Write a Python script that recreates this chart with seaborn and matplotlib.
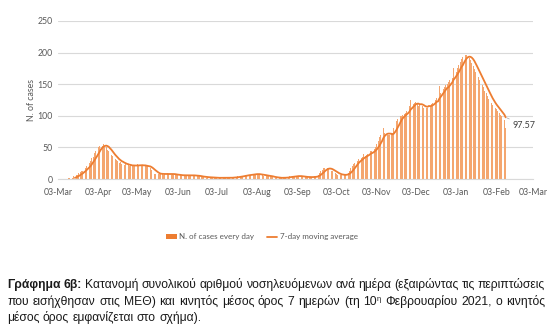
import numpy as np
import pandas as pd
import matplotlib
matplotlib.use("Agg")
import matplotlib.pyplot as plt
import matplotlib.dates as mdates
from matplotlib.patches import Patch
from matplotlib.lines import Line2D
import seaborn as sns

# ---------------- data (daily hospitalised cases, from 10 Mar 2020) ----------------
start_date = "2020-03-10"
cases_mar = [0, 1, 1, 2, 2, 4, 3, 6, 7, 9, 11, 13, 12, 16, 17, 21, 22, 26, 28, 33, 35, 41]
cases_apr = [44, 46, 51, 53, 57, 53, 55, 51, 50, 46, 45, 40, 38, 36, 32, 31, 30, 28, 26, 27,
             24, 25, 22, 23, 21, 22, 21, 22, 20, 21]
cases_may = [22, 21, 23, 22, 22, 21, 22, 20, 21, 20, 20, 19, 17, 14, 10, 8, 8, 9, 8, 8,
             8, 8, 7, 8, 8, 9, 8, 8, 7, 8, 7]
cases_jun = [7, 6, 6, 6, 6, 5, 6, 6, 6, 6, 6, 5, 6, 6, 5, 6, 5, 5, 4, 4,
             3, 3, 3, 3, 2, 3, 3, 2, 2, 2]
cases_jul = [2, 2, 2, 1, 2, 2, 2, 1, 2, 2, 2, 2, 2, 2, 2, 3, 3, 3, 4, 4,
             4, 5, 5, 6, 6, 6, 7, 7, 7, 8, 8]
cases_aug = [8, 8, 8, 7, 7, 6, 6, 5, 6, 5, 5, 4, 4, 3, 3, 2, 2, 2, 2, 2,
             1, 2, 2, 2, 3, 3, 3, 4, 4, 4, 5]
cases_sep = [5, 5, 5, 4, 4, 4, 3, 3, 3, 3, 3, 3, 3, 3, 3, 4, 4, 5, 7, 10,
             13, 15, 17, 18, 18, 17, 16, 15, 13, 12]
cases_oct = [10, 9, 8, 7, 6, 6, 6, 7, 7, 7, 8, 10, 13, 17, 21, 24, 26, 28, 29, 31,
             32, 34, 35, 40, 37, 38, 40, 41, 45, 44, 46]
cases_nov = [47, 50, 55, 60, 66, 70, 72, 80, 72, 70, 70, 69, 70, 71, 72, 80, 88, 92, 95, 98,
             100, 100, 101, 103, 105, 108, 112, 115, 125, 116]
cases_dec = [118, 120, 122, 118, 116, 117, 118, 115, 113, 112, 112, 113, 126, 116, 118, 120,
             122, 125, 128, 130, 147, 136, 140, 142, 145, 148, 150, 153, 156, 158, 160]
cases_jan = [175, 166, 170, 175, 180, 185, 190, 193, 195, 196, 196, 194, 191, 188, 184, 179,
             174, 169, 165, 161, 157, 153, 149, 145, 140, 136, 132, 127, 123, 120, 117]
cases_feb = [115, 113, 110, 108, 104, 101, 99, 97, 94, 80]

axis_start = "2020-03-03"
axis_end = "2021-03-03"
y_ticks = [0, 50, 100, 150, 200, 250]
y_label = "N. of cases"
bar_label = "N. of cases every day"
line_label = "7-day moving average"

caption_lines = [
    [[("Γράφημα", "bold")], [("6β:", "bold")], [("Κατανομή", "normal")], [("συνολικού", "normal")],
     [("αριθμού", "normal")], [("νοσηλευόμενων", "normal")], [("ανά", "normal")], [("ημέρα", "normal")],
     [("(εξαιρώντας", "normal")], [("τις", "normal")], [("περιπτώσεις", "normal")]],
    [[("που", "normal")], [("εισήχθησαν", "normal")], [("στις", "normal")], [("ΜΕΘ)", "normal")],
     [("και", "normal")], [("κινητός", "normal")], [("μέσος", "normal")], [("όρος", "normal")],
     [("7", "normal")], [("ημερών", "normal")], [("(τη", "normal")], [("10", "normal"), ("η", "sup")],
     [("Φεβρουαρίου", "normal")], [("2021,", "normal")], [("ο", "normal")], [("κινητός", "normal")]],
    [[("μέσος", "normal")], [("όρος", "normal")], [("εμφανίζεται", "normal")], [("στο", "normal")],
     [("σχήμα).", "normal")]],
]

# ---------------- figure ----------------
sns.set_theme(style="white")
plt.rcParams["font.family"] = ["Lato", "DejaVu Sans"]

W, H = 558, 326
fig = plt.figure(figsize=(W / 100, H / 100), dpi=100)
ax = fig.add_axes([58 / W, 1 - 179 / H, 475 / W, 158 / H])

daily = (cases_mar + cases_apr + cases_may + cases_jun + cases_jul + cases_aug +
         cases_sep + cases_oct + cases_nov + cases_dec + cases_jan + cases_feb)
df = pd.DataFrame({"date": pd.date_range(start_date, periods=len(daily), freq="D"),
                   "cases": daily})
df["ma"] = df["cases"].rolling(7).mean()

orange = "#ED7D31"
ax.bar(df["date"], df["cases"], width=0.6, color="#F4A66F", linewidth=0, zorder=2)
sns.lineplot(data=df.dropna(), x="date", y="ma", ax=ax, color=orange, lw=1.3,
             zorder=3, legend=False)

ax.set_xlim(pd.Timestamp(axis_start), pd.Timestamp(axis_end))
ax.set_ylim(0, 250)
ax.set_yticks(y_ticks)
ax.xaxis.set_major_locator(mdates.MonthLocator(bymonthday=3))
ax.xaxis.set_major_formatter(mdates.DateFormatter("%d-%b"))
ax.yaxis.grid(True, color="#D9D9D9", lw=0.8, zorder=0)
ax.xaxis.grid(False)
for s in ["top", "right", "left"]:
    ax.spines[s].set_visible(False)
ax.spines["bottom"].set_color("#D9D9D9")
ax.spines["bottom"].set_linewidth(0.8)
ax.tick_params(axis="both", length=0, labelsize=6.3, labelcolor="#595959")
ax.tick_params(axis="x", pad=6.5)
ax.tick_params(axis="y", pad=4)
ax.set_xlabel("")
ax.set_ylabel(y_label, fontsize=6.3, color="#595959", labelpad=1)

# data label for last moving-average value
last = df.iloc[-1]
ax.annotate(f"{last['ma']:.2f}", xy=(last["date"], last["ma"]), xytext=(5, -6),
            textcoords="offset points", fontsize=6.5, color="#404040", va="center", ha="left",
            arrowprops=dict(arrowstyle="-", color="#A6A6A6", lw=0.5, shrinkA=0, shrinkB=1))

# legend
handles = [Patch(facecolor=orange, edgecolor="none"), Line2D([], [], color=orange, lw=1.3)]
leg = fig.legend(handles, [bar_label, line_label], loc="center",
                 bbox_to_anchor=(262 / W, 1 - 237 / H), ncol=2, frameon=False, fontsize=5.8,
                 handlelength=1.3, handleheight=0.5, columnspacing=1.6, handletextpad=0.3)
for t in leg.get_texts():
    t.set_color("#595959")

# caption with justified lines
cap_family = ["Liberation Sans", "DejaVu Sans"]
cap_size = 8.7
fig.canvas.draw()
renderer = fig.canvas.get_renderer()


def seg_kw(style):
    if style == "bold":
        return dict(fontsize=cap_size, fontweight="bold")
    if style == "sup":
        return dict(fontsize=cap_size * 0.62, fontweight="normal")
    return dict(fontsize=cap_size, fontweight="normal")


def measure(text, style):
    t = fig.text(0, 0, text, family=cap_family, **seg_kw(style))
    w = t.get_window_extent(renderer).width
    t.remove()
    return w


space_w = cap_size * 100 / 72 * 0.278
x_left, x_right = 7, 545
baselines = [288, 305, 321]
justify = [True, True, False]
for words, yb, just in zip(caption_lines, baselines, justify):
    widths = [[measure(s, st) for s, st in w] for w in words]
    word_w = [sum(ws) for ws in widths]
    if just:
        gap = (x_right - x_left - sum(word_w)) / (len(words) - 1)
    else:
        gap = space_w
    x = x_left
    for w, ws in zip(words, widths):
        for (s, st), sw in zip(w, ws):
            dy = 4 if st == "sup" else 0
            fig.text(x / W, 1 - (yb - dy) / H, s, family=cap_family, color="#1a1a1a",
                     va="baseline", ha="left", **seg_kw(st))
            x += sw
        x += gap

fig.savefig("out.png", dpi=100)
